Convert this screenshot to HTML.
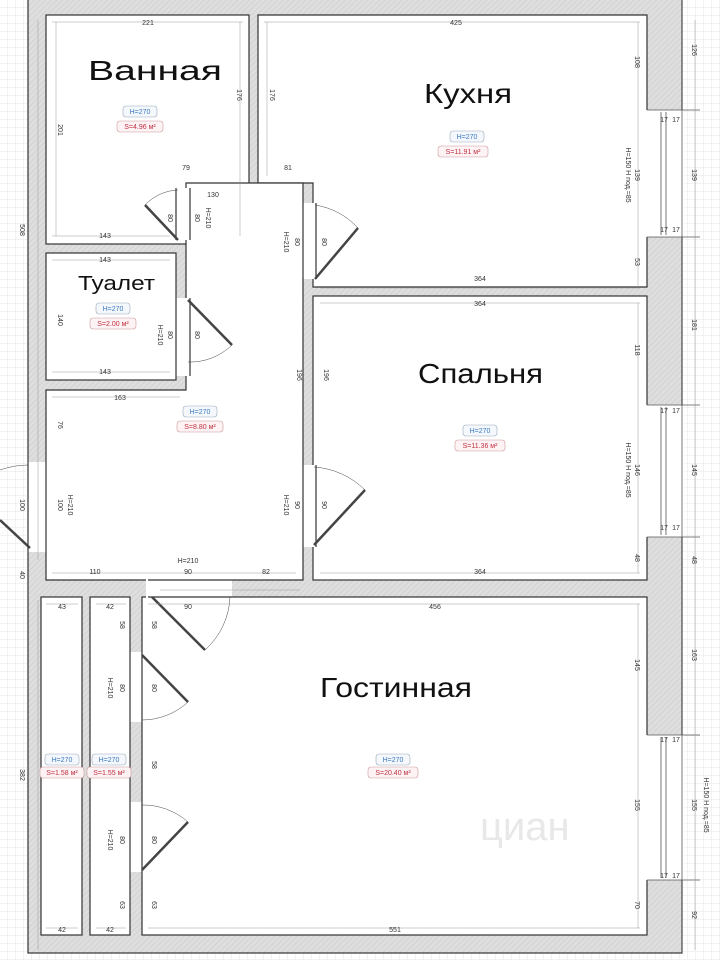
<!DOCTYPE html>
<html><head><meta charset="utf-8"><style>
html,body{margin:0;padding:0;width:720px;height:960px;overflow:hidden;background:#fff}
svg{display:block;font-family:"Liberation Sans","Noto Sans CJK SC",sans-serif}
.d{font-size:7px;fill:#333}
.t{font-size:28px;fill:#111}
.hb{fill:#f4f8fc;stroke:#9ab;stroke-width:.6}
.sb{fill:#fdf2f4;stroke:#c99;stroke-width:.6}
.ht{font-size:7px;fill:#3a7bc0}
.st{font-size:7px;fill:#c03040}
.dl{stroke:#999;stroke-width:.5;fill:none}
</style></head><body>
<svg width="720" height="960" viewBox="0 0 720 960">
<defs>
<pattern id="g" width="8" height="8" patternUnits="userSpaceOnUse"><path d="M8 0V8H0" fill="none" stroke="#e3e6ec" stroke-width="1"/></pattern>
<pattern id="h" width="4" height="4" patternUnits="userSpaceOnUse" patternTransform="rotate(45)"><rect width="4" height="4" fill="#dedede"/><line x1="0" y1="0" x2="0" y2="4" stroke="#c8c8c8" stroke-width="1"/></pattern>
</defs>
<rect width="720" height="960" fill="url(#g)"/>
<rect x="28" y="-5" width="654" height="958" fill="url(#h)" stroke="#333" stroke-width="1.2"/>
<g fill="#fff" stroke="#333" stroke-width="1.2">
<rect x="46" y="15" width="203" height="229"/>
<path d="M258 15H647V287H313V183H258Z"/>
<rect x="313" y="296" width="334" height="284"/>
<rect x="46" y="253" width="130" height="127"/>
<path d="M186 183H303V580H46V390H186Z"/>
<rect x="41" y="597" width="41" height="338"/>
<rect x="90" y="597" width="40" height="338"/>
<rect x="142" y="597" width="505" height="338"/>
</g>
<g fill="#fff" stroke="none">
<rect x="174" y="188" width="18" height="52"/>
<rect x="174" y="298" width="18" height="78"/>
<rect x="301" y="203" width="17" height="76"/>
<rect x="301" y="465" width="17" height="82"/>
<rect x="146" y="578" width="86" height="21"/>
<rect x="128" y="652" width="16" height="70"/>
<rect x="128" y="802" width="16" height="70"/>
<rect x="26" y="462" width="22" height="90"/>
<rect x="645" y="110" width="39" height="127"/>
<rect x="645" y="405" width="39" height="132"/>
<rect x="645" y="735" width="39" height="145"/>
</g>
<g stroke="#333" stroke-width="1.2" fill="none">
<path d="M176 188V240M190 188V240M176 298V376M190 298V376"/>
<path d="M303 203V279M316 203V279M303 465V547M316 465V547"/>
<path d="M148 580H232M148 597H232M130 652V722M142 652V722M130 802V872M142 872V802"/>
<path d="M28 462V552M46 462V552"/>
</g>
<g stroke="#444" stroke-width="1" fill="none">
<path d="M178 240L145 205" stroke-width="2.5"/><path d="M145 205A48 48 0 0 1 178 190" stroke-width=".5"/>
<path d="M188 300L232 345" stroke-width="2.5"/><path d="M232 345A60 60 0 0 1 188 362" stroke-width=".5"/>
<path d="M315 279L358 228" stroke-width="2.5"/><path d="M358 228A75 75 0 0 0 315 205" stroke-width=".5"/>
<path d="M314 545L365 490" stroke-width="2.5"/><path d="M365 490A80 80 0 0 0 314 467" stroke-width=".5"/>
<path d="M152 597L205 650" stroke-width="2.5"/><path d="M205 650A75 75 0 0 0 230 597" stroke-width=".5"/>
<path d="M142 655L188 702" stroke-width="2.5"/><path d="M188 702A68 68 0 0 1 142 720" stroke-width=".5"/>
<path d="M142 870L188 822" stroke-width="2.5"/><path d="M188 822A68 68 0 0 0 142 805" stroke-width=".5"/>
<path d="M30 548L0 520" stroke-width="2.5"/><path d="M0 470A85 85 0 0 1 28 465" stroke-width=".5"/>
</g>
<g stroke="#555" stroke-width=".8" fill="none">
<path d="M647 110H700M647 237H700M661 112V235M666 112V235"/>
<path d="M647 405H700M647 537H700M661 407V535M666 407V535"/>
<path d="M647 735H700M647 880H700M661 737V878M666 737V878"/>
<path d="M682 0V953"/>
</g>
<g class="dl">
<path d="M52 22H243M264 22H640M52 236H170M52 260H170M52 372H170M52 397H180M52 573H296M160 590H300M320 288H640M320 303H640M320 573H640M148 604H640M148 928H640M46 604H78M96 604H126M46 928H78M96 928H126"/>
<path d="M56 22V236M240 22V236M267 22V176M638 22V287M638 303V573M638 604V928M695 20V950M38 20V560M38 600V950"/>
</g>
<g class="d" text-anchor="middle">
<text x="148" y="25">221</text><text x="456" y="25">425</text>
<text x="105" y="238">143</text><text x="105" y="262">143</text><text x="105" y="374">143</text>
<text x="120" y="400">163</text><text x="213" y="197">130</text><text x="186" y="170">79</text><text x="288" y="170">81</text>
<text x="480" y="281">364</text><text x="480" y="306">364</text><text x="480" y="574">364</text>
<text x="95" y="574">110</text><text x="188" y="574">90</text><text x="266" y="574">82</text>
<text x="188" y="609">90</text><text x="435" y="609">456</text><text x="395" y="932">551</text>
<text x="62" y="609">43</text><text x="110" y="609">42</text><text x="62" y="932">42</text><text x="110" y="932">42</text>
<text x="664" y="122">17</text><text x="676" y="122">17</text><text x="664" y="232">17</text><text x="676" y="232">17</text>
<text x="664" y="413">17</text><text x="676" y="413">17</text><text x="664" y="530">17</text><text x="676" y="530">17</text>
<text x="664" y="742">17</text><text x="676" y="742">17</text><text x="664" y="878">17</text><text x="676" y="878">17</text>
<text x="188" y="563">H=210</text>
</g>
<g class="d" text-anchor="middle">
<text transform="translate(58,130) rotate(90)">201</text>
<text transform="translate(237,95) rotate(90)">176</text>
<text transform="translate(270,95) rotate(90)">176</text>
<text transform="translate(635,62) rotate(90)">108</text>
<text transform="translate(635,175) rotate(90)">139</text>
<text transform="translate(635,262) rotate(90)">53</text>
<text transform="translate(635,350) rotate(90)">118</text>
<text transform="translate(635,470) rotate(90)">146</text>
<text transform="translate(635,558) rotate(90)">48</text>
<text transform="translate(635,665) rotate(90)">145</text>
<text transform="translate(635,805) rotate(90)">155</text>
<text transform="translate(635,905) rotate(90)">70</text>
<text transform="translate(692,50) rotate(90)">126</text>
<text transform="translate(692,175) rotate(90)">139</text>
<text transform="translate(692,325) rotate(90)">181</text>
<text transform="translate(692,470) rotate(90)">145</text>
<text transform="translate(692,560) rotate(90)">48</text>
<text transform="translate(692,655) rotate(90)">163</text>
<text transform="translate(692,805) rotate(90)">155</text>
<text transform="translate(692,915) rotate(90)">92</text>
<text transform="translate(20,230) rotate(90)">508</text>
<text transform="translate(20,505) rotate(90)">100</text>
<text transform="translate(20,575) rotate(90)">40</text>
<text transform="translate(20,775) rotate(90)">382</text>
<text transform="translate(58,320) rotate(90)">140</text>
<text transform="translate(58,425) rotate(90)">76</text>
<text transform="translate(58,505) rotate(90)">100</text>
<text transform="translate(297,375) rotate(90)">196</text>
<text transform="translate(324,375) rotate(90)">196</text>
<text transform="translate(168,218) rotate(90)">80</text>
<text transform="translate(195,218) rotate(90)">80</text>
<text transform="translate(295,242) rotate(90)">80</text>
<text transform="translate(322,242) rotate(90)">80</text>
<text transform="translate(168,335) rotate(90)">80</text>
<text transform="translate(195,335) rotate(90)">80</text>
<text transform="translate(295,505) rotate(90)">90</text>
<text transform="translate(322,505) rotate(90)">90</text>
<text transform="translate(120,688) rotate(90)">80</text>
<text transform="translate(152,688) rotate(90)">80</text>
<text transform="translate(120,840) rotate(90)">80</text>
<text transform="translate(152,840) rotate(90)">80</text>
<text transform="translate(152,765) rotate(90)">58</text>
<text transform="translate(120,625) rotate(90)">58</text>
<text transform="translate(152,625) rotate(90)">58</text>
<text transform="translate(120,905) rotate(90)">63</text>
<text transform="translate(152,905) rotate(90)">63</text>
<text transform="translate(206,218) rotate(90)">H=210</text>
<text transform="translate(284,242) rotate(90)">H=210</text>
<text transform="translate(158,335) rotate(90)">H=210</text>
<text transform="translate(68,505) rotate(90)">H=210</text>
<text transform="translate(284,505) rotate(90)">H=210</text>
<text transform="translate(108,688) rotate(90)">H=210</text>
<text transform="translate(108,840) rotate(90)">H=210</text>
<text transform="translate(626,175) rotate(90)">H=150  H под.=85</text>
<text transform="translate(626,470) rotate(90)">H=150  H под.=85</text>
<text transform="translate(704,805) rotate(90)">H=150  H под.=85</text>
</g>
<g class="t">
<text x="88" y="80" textLength="134" lengthAdjust="spacingAndGlyphs">Ванная</text>
<text x="424" y="103" textLength="88" lengthAdjust="spacingAndGlyphs">Кухня</text>
<text x="78" y="290" font-size="20" textLength="77" lengthAdjust="spacingAndGlyphs">Туалет</text>
<text x="418" y="383" textLength="125" lengthAdjust="spacingAndGlyphs">Спальня</text>
<text x="320" y="697" textLength="152" lengthAdjust="spacingAndGlyphs">Гостинная</text>
</g>
<g text-anchor="middle">
<rect class="hb" x="123" y="106" width="34" height="11" rx="3"/><text class="ht" x="140" y="114">H=270</text>
<rect class="sb" x="117" y="121" width="46" height="11" rx="3"/><text class="st" x="140" y="129">S=4.96 м²</text>
<rect class="hb" x="450" y="131" width="34" height="11" rx="3"/><text class="ht" x="467" y="139">H=270</text>
<rect class="sb" x="438" y="146" width="50" height="11" rx="3"/><text class="st" x="463" y="154">S=11.91 м²</text>
<rect class="hb" x="96" y="303" width="34" height="11" rx="3"/><text class="ht" x="113" y="311">H=270</text>
<rect class="sb" x="90" y="318" width="46" height="11" rx="3"/><text class="st" x="113" y="326">S=2.00 м²</text>
<rect class="hb" x="183" y="406" width="34" height="11" rx="3"/><text class="ht" x="200" y="414">H=270</text>
<rect class="sb" x="177" y="421" width="46" height="11" rx="3"/><text class="st" x="200" y="429">S=8.80 м²</text>
<rect class="hb" x="463" y="425" width="34" height="11" rx="3"/><text class="ht" x="480" y="433">H=270</text>
<rect class="sb" x="455" y="440" width="50" height="11" rx="3"/><text class="st" x="480" y="448">S=11.36 м²</text>
<rect class="hb" x="45" y="754" width="34" height="11" rx="3"/><text class="ht" x="62" y="762">H=270</text>
<rect class="sb" x="40" y="767" width="44" height="11" rx="3"/><text class="st" x="62" y="775">S=1.58 м²</text>
<rect class="hb" x="92" y="754" width="34" height="11" rx="3"/><text class="ht" x="109" y="762">H=270</text>
<rect class="sb" x="87" y="767" width="44" height="11" rx="3"/><text class="st" x="109" y="775">S=1.55 м²</text>
<rect class="hb" x="376" y="754" width="34" height="11" rx="3"/><text class="ht" x="393" y="762">H=270</text>
<rect class="sb" x="368" y="767" width="50" height="11" rx="3"/><text class="st" x="393" y="775">S=20.40 м²</text>
</g>
<text x="480" y="840" font-size="40" fill="#e8e8e8">циан</text>
</svg>
</body></html>
